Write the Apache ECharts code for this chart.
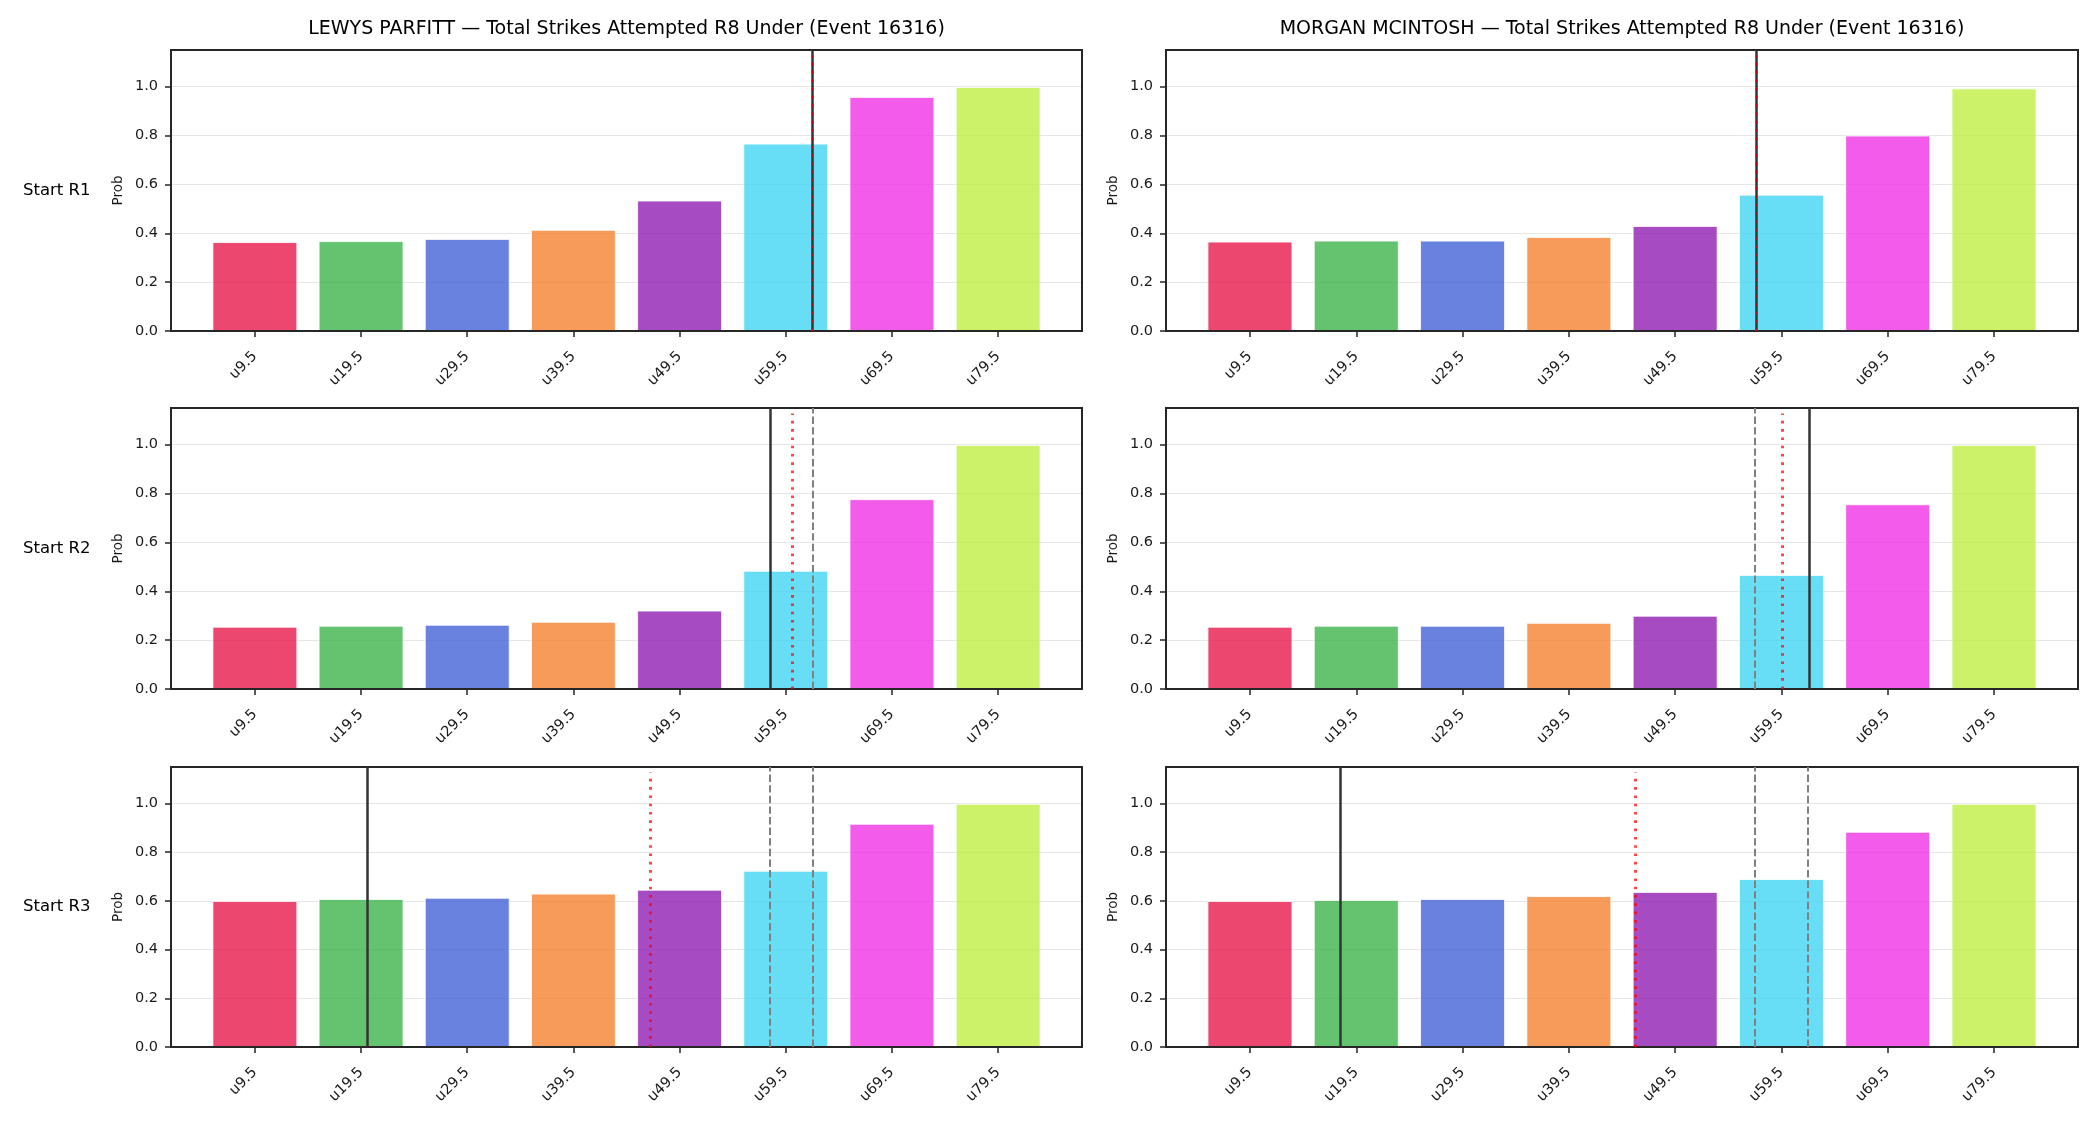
<!DOCTYPE html>
<html>
<head>
<meta charset="utf-8">
<title>Total Strikes Attempted R8 Under (Event 16316)</title>
<script src="https://cdn.jsdelivr.net/npm/echarts@6/dist/echarts.min.js"></script>
<style>
  html, body { margin: 0; padding: 0; background: #fff; }
  #chartDoms { width: 2100px; height: 1125px; }
</style>
</head>
<body>
<div id="chartDoms"></div>
<script>
// lines on the x axis
const categories = ["u9.5", "u19.5", "u29.5", "u39.5", "u49.5", "u59.5", "u69.5", "u79.5"];
const fighters = ["LEWYS PARFITT", "MORGAN MCINTOSH"];
const rounds = ["Start R1", "Start R2", "Start R3"];
const yTickValues = [0, 0.2, 0.4, 0.6, 0.8, 1.0];

// P(under) per line, per round start
const parfittR1 = [0.364, 0.368, 0.377, 0.414, 0.534, 0.767, 0.958, 0.999];
const parfittR2 = [0.255, 0.259, 0.263, 0.275, 0.321, 0.484, 0.777, 0.999];
const parfittR3 = [0.600, 0.608, 0.613, 0.630, 0.646, 0.724, 0.917, 0.999];
const mcintoshR1 = [0.366, 0.370, 0.370, 0.385, 0.430, 0.558, 0.800, 0.993];
const mcintoshR2 = [0.255, 0.259, 0.259, 0.271, 0.300, 0.467, 0.756, 0.999];
const mcintoshR3 = [0.600, 0.604, 0.608, 0.620, 0.637, 0.690, 0.884, 0.999];

// vertical markers, in category-index units (black = current, red = expected, grey = earlier rounds)
const parfittNow = [5.25, 4.85, 1.06];
const parfittExp = [5.25, 5.06, 3.72];
const parfittPrev = [[], [5.25], [4.85, 5.25]];
const mcintoshNow = [4.76, 5.26, 0.855];
const mcintoshExp = [4.76, 5.01, 3.62];
const mcintoshPrev = [[], [4.75], [4.75, 5.25]];

const barColors = ["#e6194b", "#3cb44b", "#4363d8", "#f58231", "#911eb4", "#42d4f4", "#f032e6", "#bfef45"];

const probs = [[parfittR1, parfittR2, parfittR3], [mcintoshR1, mcintoshR2, mcintoshR3]];
const nowLines = [parfittNow, mcintoshNow];
const expLines = [parfittExp, mcintoshExp];
const prevLines = [parfittPrev, mcintoshPrev];

// layout
const FONT = "DejaVu Sans";
const colLeft = [171, 1166];
const colWidth = [911, 912];
const rowTop = [50, 408, 767];
const rowHeight = [281, 281, 280];
const xMin = -0.79, xMax = 7.79, yMax = 1.15;

const grid = [], xAxis = [], yAxis = [], series = [], graphic = [];

for (let c = 0; c < 2; c++) {
  // title per column
  graphic.push({
    type: "text", x: colLeft[c] + colWidth[c] / 2, y: 29.5,
    style: {
      text: fighters[c] + " \u2014 Total Strikes Attempted R8 Under (Event 16316)",
      font: "19px '" + FONT + "'", fill: "#000", textAlign: "center", textVerticalAlign: "middle"
    }
  });
  for (let r = 0; r < 3; r++) {
    const idx = grid.length;
    const barW = colWidth[c] / (xMax - xMin) * 0.8;
    grid.push({
      left: colLeft[c], top: rowTop[r], width: colWidth[c], height: rowHeight[r],
      show: true, borderColor: "#262626", borderWidth: 2, backgroundColor: "transparent", z: 5
    });
    xAxis.push({
      type: "value", gridIndex: idx, min: xMin, max: xMax,
      axisLine: { show: false, onZero: false },
      axisTick: { show: true, customValues: categories.map((_, i) => i), length: 6, lineStyle: { color: "#262626", width: 1.5 } },
      axisLabel: {
        customValues: categories.map((_, i) => i), rotate: 45, margin: 23,
        fontSize: 14.5, fontFamily: FONT, color: "#1a1a1a",
        formatter: (v) => categories[Math.round(v)]
      },
      splitLine: { show: false }
    });
    yAxis.push({
      type: "value", gridIndex: idx, min: 0, max: yMax, interval: 0.2,
      name: "Prob", nameLocation: "middle", nameGap: 46,
      nameTextStyle: { fontSize: 13.5, fontFamily: FONT, color: "#1a1a1a" },
      axisLine: { show: false, onZero: false },
      axisTick: { show: true, customValues: yTickValues, length: 6, lineStyle: { color: "#262626", width: 1.5 } },
      axisLabel: {
        customValues: yTickValues, margin: 13, fontSize: 14.5, fontFamily: FONT, color: "#1a1a1a",
        formatter: (v) => v.toFixed(1)
      },
      splitLine: { show: true, lineStyle: { color: "#e6e6e6", width: 1 } }
    });

    // marker lines
    const ml = [];
    prevLines[c][r].forEach((x) => {
      ml.push({ xAxis: x, lineStyle: { color: "#808080", width: 2, type: [7.4, 3.2] } });
    });
    ml.push({ xAxis: nowLines[c][r], lineStyle: { color: "#333333", width: 2.5, type: "solid" } });
    const redStyle = { color: "rgba(255,0,0,0.72)", width: 3, type: [2.6, 5.7] };
    ml.push([
      { coord: [expLines[c][r], 0], lineStyle: redStyle },
      { coord: [expLines[c][r], yMax * 0.98], lineStyle: redStyle }
    ]);

    series.push({
      type: "bar", xAxisIndex: idx, yAxisIndex: idx, barWidth: barW,
      data: probs[c][r].map((v, i) => ({
        value: [i, v],
        itemStyle: { color: barColors[i], opacity: 0.8, borderColor: "#fff", borderWidth: 1 }
      })),
      markLine: {
        silent: true, symbol: ["none", "none"], label: { show: false }, animation: false,
        data: ml
      }
    });

    // row label only on the left column
    if (c === 0) {
      graphic.push({
        type: "text", x: 23, y: rowTop[r] + rowHeight[r] / 2,
        style: {
          text: rounds[r], font: "16.5px '" + FONT + "'", fill: "#000",
          textAlign: "left", textVerticalAlign: "middle"
        }
      });
    }
  }
}

const myChart = echarts.init(document.getElementById("chartDoms"), null, { renderer: "canvas" });
myChart.setOption({
  animation: false,
  backgroundColor: "#ffffff",
  grid: grid,
  xAxis: xAxis,
  yAxis: yAxis,
  series: series,
  graphic: graphic
});
</script>
</body>
</html>
